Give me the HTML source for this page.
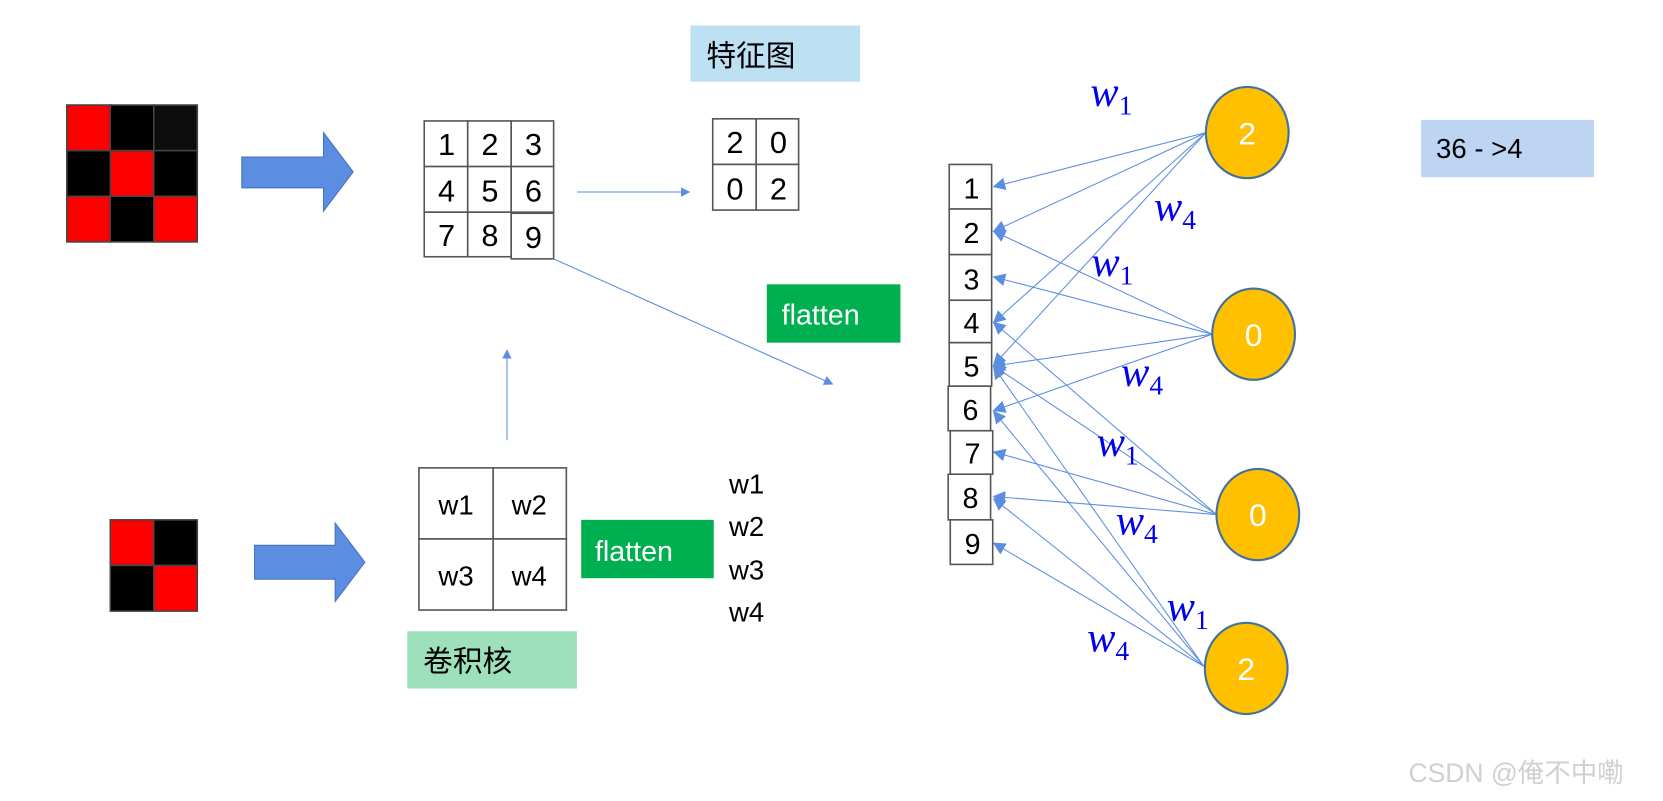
<!DOCTYPE html>
<html><head><meta charset="utf-8"><style>
html,body{margin:0;padding:0;background:#fff;width:1663px;height:801px;overflow:hidden}
svg{display:block}
.t{font-family:"Liberation Sans","Noto Sans CJK SC",sans-serif}
.w{font-family:"Liberation Serif",serif;font-style:italic;fill:#0000ee;font-size:40px}
.s{font-style:normal;font-size:26px}
</style></head><body>
<svg width="1663" height="801" viewBox="0 0 1568 755" preserveAspectRatio="none" xmlns="http://www.w3.org/2000/svg">
<defs>
<marker id="a" viewBox="0 0 10 10" refX="9" refY="5" markerWidth="9" markerHeight="9" orient="auto" markerUnits="userSpaceOnUse"><path d="M0,0L10,5L0,10z" fill="#5b8ee0"/></marker>
<marker id="b" viewBox="0 0 10 10" refX="9" refY="5" markerWidth="12" markerHeight="12" orient="auto" markerUnits="userSpaceOnUse"><path d="M0,0L10,5L0,10z" fill="#5b8ee0"/></marker>
</defs>
<g stroke="#444" stroke-width="1.5">
<rect x="63" y="99" width="41" height="43" fill="#f00"/><rect x="104" y="99" width="41" height="43" fill="#000"/><rect x="145" y="99" width="41" height="43" fill="#0d0d0d"/>
<rect x="63" y="142" width="41" height="43" fill="#000"/><rect x="104" y="142" width="41" height="43" fill="#f00"/><rect x="145" y="142" width="41" height="43" fill="#000"/>
<rect x="63" y="185" width="41" height="43" fill="#f00"/><rect x="104" y="185" width="41" height="43" fill="#000"/><rect x="145" y="185" width="41" height="43" fill="#f00"/>
<rect x="104" y="490" width="41" height="43" fill="#f00"/><rect x="145" y="490" width="41" height="43" fill="#000"/>
<rect x="104" y="533" width="41" height="43" fill="#000"/><rect x="145" y="533" width="41" height="43" fill="#f00"/>
</g>
<path d="M228,148H305V125L333,162L305,199V177H228Z" fill="#5b8ee0" stroke="#4472c4" stroke-width="1"/>
<path d="M240,514H316V493L344,530L316,567V546H240Z" fill="#5b8ee0" stroke="#4472c4" stroke-width="1"/>
<g stroke="#555" stroke-width="1.5" fill="#fff">
<rect x="400" y="114" width="41" height="43"/><rect x="441" y="114" width="41" height="43"/><rect x="482" y="114" width="40" height="43"/>
<rect x="400" y="157" width="41" height="43"/><rect x="441" y="157" width="41" height="43"/><rect x="482" y="157" width="40" height="43"/>
<rect x="400" y="200" width="41" height="42"/><rect x="441" y="200" width="41" height="42"/><rect x="482" y="201" width="40" height="43"/>
<rect x="672" y="112" width="41" height="43"/><rect x="713" y="112" width="40" height="43"/>
<rect x="672" y="155" width="41" height="43"/><rect x="713" y="155" width="40" height="43"/>
<rect x="395" y="441" width="70" height="67"/><rect x="465" y="441" width="69" height="67"/>
<rect x="395" y="508" width="70" height="67"/><rect x="465" y="508" width="69" height="67"/>
</g>
<g class="t" font-size="29" text-anchor="middle" fill="#000">
<text x="421" y="146">1</text><text x="462" y="146">2</text><text x="503" y="146">3</text>
<text x="421" y="190">4</text><text x="462" y="190">5</text><text x="503" y="190">6</text>
<text x="421" y="232">7</text><text x="462" y="232">8</text><text x="503" y="234">9</text>
<text x="693" y="144">2</text><text x="734" y="144">0</text>
<text x="693" y="188">0</text><text x="734" y="188">2</text>
</g>
<g class="t" font-size="26" text-anchor="middle">
<text x="430" y="485">w1</text><text x="499" y="485">w2</text>
<text x="430" y="552">w3</text><text x="499" y="552">w4</text>
<text x="704" y="465">w1</text><text x="704" y="505">w2</text><text x="704" y="546">w3</text><text x="704" y="586">w4</text>
</g>
<rect x="651" y="24" width="160" height="53" fill="#bde0f3"/>
<text x="666" y="62" class="t" font-size="28">特征图</text>
<rect x="723" y="268" width="126" height="55" fill="#00b050"/>
<text x="737" y="306" class="t" font-size="27" fill="#fff">flatten</text>
<rect x="548" y="490" width="125" height="55" fill="#00b050"/>
<text x="561" y="529" class="t" font-size="27" fill="#fff">flatten</text>
<rect x="384" y="595" width="160" height="54" fill="#9de0bb"/>
<text x="399" y="633" class="t" font-size="28">卷积核</text>
<rect x="1340" y="113" width="163" height="54" fill="#bdd4f2"/>
<text x="1354" y="149" class="t" font-size="26">36 - &gt;4</text>
<g stroke="#5b8ee0" stroke-width="1" fill="none">
<line x1="544" y1="181" x2="650" y2="181" marker-end="url(#a)"/>
<line x1="478" y1="415" x2="478" y2="330" marker-end="url(#a)"/>
<line x1="522" y1="244" x2="785" y2="362" marker-end="url(#a)"/>
<g marker-end="url(#b)">
<line x1="1137" y1="125" x2="937" y2="176"/>
<line x1="1137" y1="125" x2="937" y2="218"/>
<line x1="1137" y1="125" x2="937" y2="304"/>
<line x1="1137" y1="125" x2="937" y2="344"/>
<line x1="1143" y1="315" x2="937" y2="218"/>
<line x1="1143" y1="315" x2="937" y2="261"/>
<line x1="1143" y1="315" x2="937" y2="345"/>
<line x1="1143" y1="315" x2="937" y2="387"/>
<line x1="1147" y1="485" x2="937" y2="304"/>
<line x1="1147" y1="485" x2="937" y2="345"/>
<line x1="1147" y1="485" x2="937" y2="426"/>
<line x1="1147" y1="485" x2="937" y2="468"/>
<line x1="1135" y1="628" x2="937" y2="346"/>
<line x1="1135" y1="628" x2="937" y2="388"/>
<line x1="1135" y1="628" x2="937" y2="470"/>
<line x1="1135" y1="628" x2="937" y2="512"/>
</g>
</g>
<g stroke="#555" stroke-width="1.5" fill="#fff">
<rect x="895" y="155" width="40" height="42"/><rect x="895" y="197" width="40" height="43"/><rect x="895" y="240" width="40" height="43"/>
<rect x="895" y="283" width="40" height="40"/><rect x="895" y="323" width="40" height="41"/><rect x="894" y="364" width="40" height="42"/>
<rect x="896" y="406" width="40" height="41"/><rect x="894" y="447" width="40" height="43"/><rect x="896" y="490" width="40" height="42"/>
</g>
<g class="t" font-size="27" text-anchor="middle">
<text x="916" y="187">1</text><text x="916" y="229">2</text><text x="916" y="273">3</text>
<text x="916" y="314">4</text><text x="916" y="355">5</text><text x="915" y="396">6</text>
<text x="917" y="437">7</text><text x="915" y="479">8</text><text x="917" y="522">9</text>
</g>
<g fill="#ffc000" stroke="#41719c" stroke-width="2">
<ellipse cx="1176" cy="125" rx="39" ry="43"/>
<ellipse cx="1182" cy="315" rx="39" ry="43"/>
<ellipse cx="1186" cy="485" rx="39" ry="43"/>
<ellipse cx="1175" cy="630" rx="39" ry="43"/>
</g>
<g class="t" font-size="30" fill="#fff" text-anchor="middle">
<text x="1176" y="136">2</text><text x="1182" y="326">0</text><text x="1186" y="496">0</text><text x="1175" y="641">2</text>
</g>
<text class="w" x="1028" y="100">w<tspan class="s" dy="8">1</tspan></text>
<text class="w" x="1088" y="208">w<tspan class="s" dy="8">4</tspan></text>
<text class="w" x="1029" y="260">w<tspan class="s" dy="8">1</tspan></text>
<text class="w" x="1057" y="364">w<tspan class="s" dy="8">4</tspan></text>
<text class="w" x="1034" y="430">w<tspan class="s" dy="8">1</tspan></text>
<text class="w" x="1052" y="504">w<tspan class="s" dy="8">4</tspan></text>
<text class="w" x="1100" y="585">w<tspan class="s" dy="8">1</tspan></text>
<text class="w" x="1025" y="614">w<tspan class="s" dy="8">4</tspan></text>
<text x="1328" y="737" class="t" font-size="25" fill="#d0d0d0">CSDN @俺不中嘞</text>
</svg>
</body></html>
